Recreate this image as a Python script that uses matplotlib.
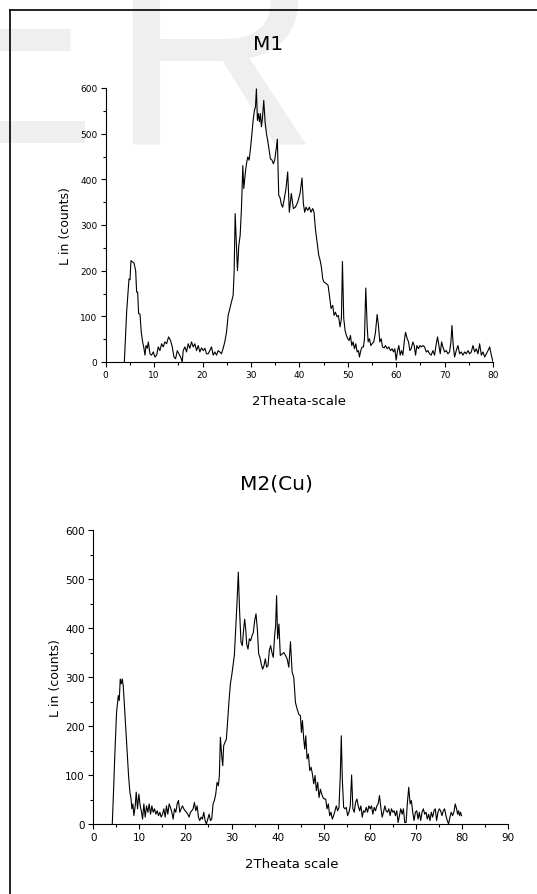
import matplotlib
matplotlib.use("Agg")
import matplotlib.pyplot as plt
from matplotlib.lines import Line2D
from matplotlib.ticker import MultipleLocator

# ---- data ----
m1_theta = [3.85, 3.99, 4.33, 4.81, 5.02, 5.22, 5.57, 5.84, 6.19, 6.39,
            6.6, 6.8, 7.08, 7.35, 7.63, 7.9, 8.11, 8.32, 8.59, 8.8,
            9.14, 9.48, 9.83, 10.17, 10.52, 10.86, 11.2, 11.55, 11.89, 12.23,
            12.58, 12.99, 13.4, 13.75, 14.09, 14.43, 14.78, 15.12, 15.46, 15.81,
            16.01, 16.36, 16.7, 17.04, 17.39, 17.73, 18.08, 18.42, 18.76, 19.11,
            19.45, 19.79, 20.14, 20.48, 20.82, 21.17, 21.51, 21.86, 22.2, 22.54,
            22.89, 23.23, 23.57, 23.92, 24.26, 24.6, 24.95, 25.29, 25.64, 25.98,
            26.32, 26.53, 26.74, 27.01, 27.22, 27.49, 27.77, 28.04, 28.32, 28.52,
            28.8, 29.07, 29.35, 29.62, 29.9, 30.17, 30.45, 30.72, 30.93, 31.13,
            31.34, 31.55, 31.75, 31.96, 32.16, 32.37, 32.65, 32.92, 33.2, 33.47,
            33.75, 34.02, 34.36, 34.64, 34.91, 35.26, 35.46, 35.74, 36.01, 36.29,
            36.55, 36.9, 37.24, 37.59, 37.93, 38.34, 38.76, 39.17, 39.66, 40.14,
            40.55, 40.83, 41.1, 41.38, 41.72, 42.07, 42.41, 42.76, 43.03, 43.31,
            43.66, 44.0, 44.28, 44.55, 44.83, 45.1, 45.52, 45.93, 46.21, 46.55,
            46.9, 47.17, 47.45, 47.79, 48.07, 48.41, 48.69, 48.9, 49.17, 49.45,
            49.72, 50.0, 50.28, 50.55, 50.83, 51.1, 51.38, 51.66, 51.93, 52.21,
            52.41, 52.69, 52.97, 53.24, 53.45, 53.72, 54.0, 54.21, 54.48, 54.76,
            55.03, 55.38, 55.72, 56.07, 56.34, 56.62, 56.9, 57.17, 57.52, 57.79,
            58.14, 58.48, 58.83, 59.17, 59.45, 59.72, 60.0, 60.28, 60.55, 60.83,
            61.1, 61.38, 61.66, 61.93, 62.28, 62.55, 62.83, 63.1, 63.45, 63.72,
            64.0, 64.28, 64.62, 64.9, 65.17, 65.52, 65.86, 66.21, 66.55, 66.9,
            67.24, 67.59, 67.93, 68.28, 68.55, 68.83, 69.1, 69.38, 69.66, 70.0,
            70.34, 70.69, 71.03, 71.31, 71.52, 71.79, 72.07, 72.41, 72.76, 73.1,
            73.45, 73.79, 74.14, 74.48, 74.83, 75.17, 75.52, 75.86, 76.21, 76.55,
            76.9, 77.24, 77.59, 77.93, 78.28, 78.62, 78.97, 79.31, 79.66, 80.0]
m1_counts = [0, 33, 110, 182, 180, 222, 219, 217, 200, 153,
             153, 106, 105, 65, 44, 30, 15, 36, 30, 44,
             18, 15, 22, 11, 15, 33, 25, 40, 33, 44,
             40, 55, 47, 33, 11, 7, 25, 18, 11, 0,
             25, 33, 22, 40, 30, 44, 33, 40, 25, 36,
             22, 31, 25, 30, 18, 18, 25, 33, 15, 22,
             15, 25, 22, 18, 30, 44, 65, 102, 117, 131,
             146, 197, 325, 255, 200, 255, 277, 336, 430, 380,
             410, 434, 449, 442, 467, 496, 529, 551, 558, 598,
             529, 544, 526, 544, 515, 533, 573, 526, 500, 485,
             464, 445, 442, 434, 442, 470, 488, 365, 360, 345,
             339, 358, 380, 416, 328, 369, 336, 339, 350, 369,
             403, 347, 328, 339, 332, 339, 328, 336, 328, 292,
             263, 234, 223, 208, 182, 175, 172, 168, 146, 117,
             124, 102, 109, 99, 102, 77, 95, 220, 95, 69,
             58, 51, 47, 58, 36, 44, 29, 40, 22, 25,
             11, 25, 33, 33, 51, 162, 80, 44, 51, 36,
             40, 44, 65, 104, 80, 44, 51, 33, 31, 36,
             29, 33, 25, 29, 22, 29, 4, 25, 36, 15,
             25, 15, 44, 65, 51, 44, 25, 29, 44, 36,
             15, 36, 29, 36, 33, 36, 33, 22, 25, 18,
             15, 25, 15, 40, 55, 36, 18, 44, 33, 22,
             25, 18, 22, 44, 80, 36, 11, 25, 36, 18,
             22, 15, 22, 18, 25, 18, 22, 36, 22, 29,
             18, 40, 15, 22, 11, 18, 25, 33, 15, 0]

m2_theta = [4.12, 4.33, 4.69, 5.05, 5.42, 5.63, 5.85, 6.07, 6.28, 6.5,
            6.79, 7.08, 7.36, 7.65, 7.94, 8.16, 8.38, 8.59, 8.81, 9.1,
            9.31, 9.6, 9.89, 10.18, 10.47, 10.69, 10.97, 11.26, 11.55, 11.84,
            12.13, 12.42, 12.71, 12.99, 13.28, 13.57, 13.86, 14.15, 14.44, 14.73,
            15.02, 15.31, 15.6, 15.88, 16.17, 16.46, 16.75, 17.04, 17.33, 17.62,
            17.91, 18.2, 18.48, 18.77, 19.06, 19.35, 19.64, 19.93, 20.22, 20.51,
            20.79, 21.08, 21.37, 21.66, 21.95, 22.24, 22.53, 22.82, 23.1, 23.39,
            23.68, 23.97, 24.26, 24.55, 24.84, 25.13, 25.42, 25.7, 25.99, 26.28,
            26.57, 26.86, 27.15, 27.36, 27.58, 27.87, 28.09, 28.3, 28.59, 28.88,
            29.17, 29.46, 29.75, 30.04, 30.32, 30.61, 30.9, 31.19, 31.47, 31.76,
            32.05, 32.34, 32.63, 32.85, 33.07, 33.29, 33.57, 33.86, 34.15, 34.44,
            34.73, 35.02, 35.31, 35.6, 35.89, 36.17, 36.46, 36.75, 37.04, 37.33,
            37.62, 37.91, 38.2, 38.48, 38.77, 39.06, 39.35, 39.57, 39.78, 40.0,
            40.29, 40.58,
            40.99, 41.35, 41.71, 42.07, 42.43, 42.79, 43.15, 43.51, 43.87, 44.23,
            44.59, 44.95, 45.17, 45.39, 45.67, 45.89, 46.11, 46.39, 46.68, 46.97,
            47.26, 47.55, 47.84, 48.13, 48.41, 48.7, 48.99, 49.28, 49.57, 49.86,
            50.14, 50.43, 50.72, 51.01, 51.3, 51.59, 51.87, 52.16, 52.45, 52.74,
            53.03, 53.32, 53.6, 53.82, 54.04, 54.33, 54.61, 54.9, 55.19, 55.48,
            55.77, 56.06, 56.34, 56.63, 56.92, 57.21, 57.5, 57.79, 58.07, 58.36,
            58.65, 58.94, 59.23, 59.52, 59.81, 60.09, 60.38, 60.67, 60.96, 61.25,
            61.54, 61.82, 62.11, 62.4, 62.69, 62.98, 63.27, 63.55, 63.84, 64.13,
            64.42, 64.71, 65.0, 65.28, 65.57, 65.86, 66.15, 66.44, 66.73, 67.02,
            67.3, 67.59, 67.88, 68.17, 68.46, 68.75, 69.03, 69.32, 69.61, 69.9,
            70.19, 70.48, 70.76, 71.05, 71.34, 71.63, 71.92, 72.21, 72.49, 72.78,
            73.07, 73.36, 73.65, 73.94, 74.22, 74.51, 74.8, 75.09, 75.38, 75.67,
            75.96, 76.24, 76.53, 76.82, 77.11, 77.4, 77.69, 77.97, 78.26, 78.55,
            78.84, 79.06, 79.27, 79.49, 79.71, 79.92]
m2_counts = [0, 51, 146, 228, 262, 252, 296, 286, 296, 282,
             235, 187, 146, 99, 65, 54, 31, 41, 17, 37,
             65, 31, 61, 37, 24, 10, 41, 14, 37, 24,
             41, 20, 37, 24, 31, 20, 27, 17, 24, 14,
             20, 31, 14, 37, 20, 41, 34, 24, 10, 31,
             24, 41, 48, 24, 31, 37, 31, 27, 24, 20,
             14, 24, 27, 31, 44, 27, 37, 14, 7, 14,
             10, 24, 7, 0, 10, 20, 7, 10, 41, 48,
             61, 85, 78, 99, 177, 139, 119, 160, 167, 173,
             214, 252, 286, 303, 323, 344, 398, 452, 514, 432,
             371, 364, 398, 418, 398, 367, 357, 378, 374, 384,
             391, 415, 429, 398, 347, 340, 326, 316, 323, 337,
             320, 323, 354, 364, 350, 340, 384, 405, 466, 378,
             408, 344,
             347, 350, 344, 337, 320, 372, 310, 299, 248, 235,
             224, 221, 187, 211, 173, 153, 180, 133, 143, 109,
             116, 102, 82, 99, 68, 85, 54, 71, 61, 54,
             51, 51, 31, 41, 17, 24, 10, 17, 27, 37,
             27, 34, 99, 180, 92, 34, 31, 34, 17, 24,
             37, 100, 31, 24, 44, 51, 37, 27, 37, 14,
             27, 24, 34, 24, 37, 31, 37, 20, 34, 27,
             37, 41, 58, 34, 14, 24, 37, 27, 24, 31,
             17, 31, 24, 27, 17, 27, 3, 17, 31, 20,
             31, 3, 3, 44, 75, 41, 48, 24, 7, 24,
             27, 10, 24, 7, 24, 31, 20, 24, 10, 20,
             7, 24, 14, 27, 31, 7, 24, 31, 27, 17,
             27, 31, 17, 7, 0, 14, 24, 17, 24, 41,
             31, 20, 27, 17, 24, 17]

W, H = 537, 895


def fx(px):
    return px / W


def fy(py):
    return 1 - py / H


fig = plt.figure(figsize=(W / 100, H / 100), dpi=100)
fig.patch.set_facecolor("white")

# faint watermark letters, kept behind the plots
wm = "#efefef"
fig.text(fx(97), fy(143), "E", fontsize=210, family="Liberation Sans",
         color=wm, ha="right", va="baseline", zorder=-5)
fig.text(fx(108), fy(143), "R", fontsize=210, family="Liberation Sans",
         color=wm, ha="left", va="baseline", zorder=-5)

# frame lines (top and left)
fig.add_artist(Line2D([fx(9.5), 1.0], [fy(11), fy(11)], color="#111111", lw=1.3))
fig.add_artist(Line2D([fx(9.5), fx(9.5)], [fy(11), 0.0], color="#111111", lw=1.3))


def style_axes(ax, xmax, tick_fs):
    ax.set_facecolor("none")
    for s in ["top", "right"]:
        ax.spines[s].set_visible(False)
    for s in ["left", "bottom"]:
        ax.spines[s].set_linewidth(0.8)
    ax.set_xlim(0, xmax)
    ax.set_ylim(0, 600)
    ax.xaxis.set_major_locator(MultipleLocator(10))
    ax.xaxis.set_minor_locator(MultipleLocator(5))
    ax.yaxis.set_major_locator(MultipleLocator(100))
    ax.yaxis.set_minor_locator(MultipleLocator(50))
    ax.tick_params(which="major", direction="out", length=3.6, width=0.8,
                   labelsize=tick_fs, pad=2.5)
    ax.tick_params(which="minor", direction="out", length=2.2, width=0.8)


# top panel: M1
ax1 = fig.add_axes([fx(105.7), fy(363), fx(493 - 105.7), (363 - 89) / H])
ax1.plot(m1_theta, m1_counts, color="black", lw=0.8)
style_axes(ax1, 80, 6.5)
ax1.set_xlabel("2Theata-scale", fontsize=9.5)
ax1.xaxis.set_label_coords(0.5, -0.115)
ax1.set_ylabel("L in (counts)", fontsize=9)
ax1.yaxis.set_label_coords(-0.087, 0.5)
fig.text(fx(268), fy(45), "M1", fontsize=14.5, ha="center", va="center")

# bottom panel: M2(Cu)
ax2 = fig.add_axes([fx(93.3), fy(825), fx(508 - 93.3), (825 - 531) / H])
ax2.plot(m2_theta, m2_counts, color="black", lw=0.8)
style_axes(ax2, 90, 7.5)
ax2.set_xlabel("2Theata scale", fontsize=9.5)
ax2.xaxis.set_label_coords(0.479, -0.112)
ax2.set_ylabel("L in (counts)", fontsize=9)
ax2.yaxis.set_label_coords(-0.075, 0.5)
fig.text(fx(276), fy(484), "M2(Cu)", fontsize=14.5, ha="center", va="center")

fig.savefig("out.png", dpi=100)
